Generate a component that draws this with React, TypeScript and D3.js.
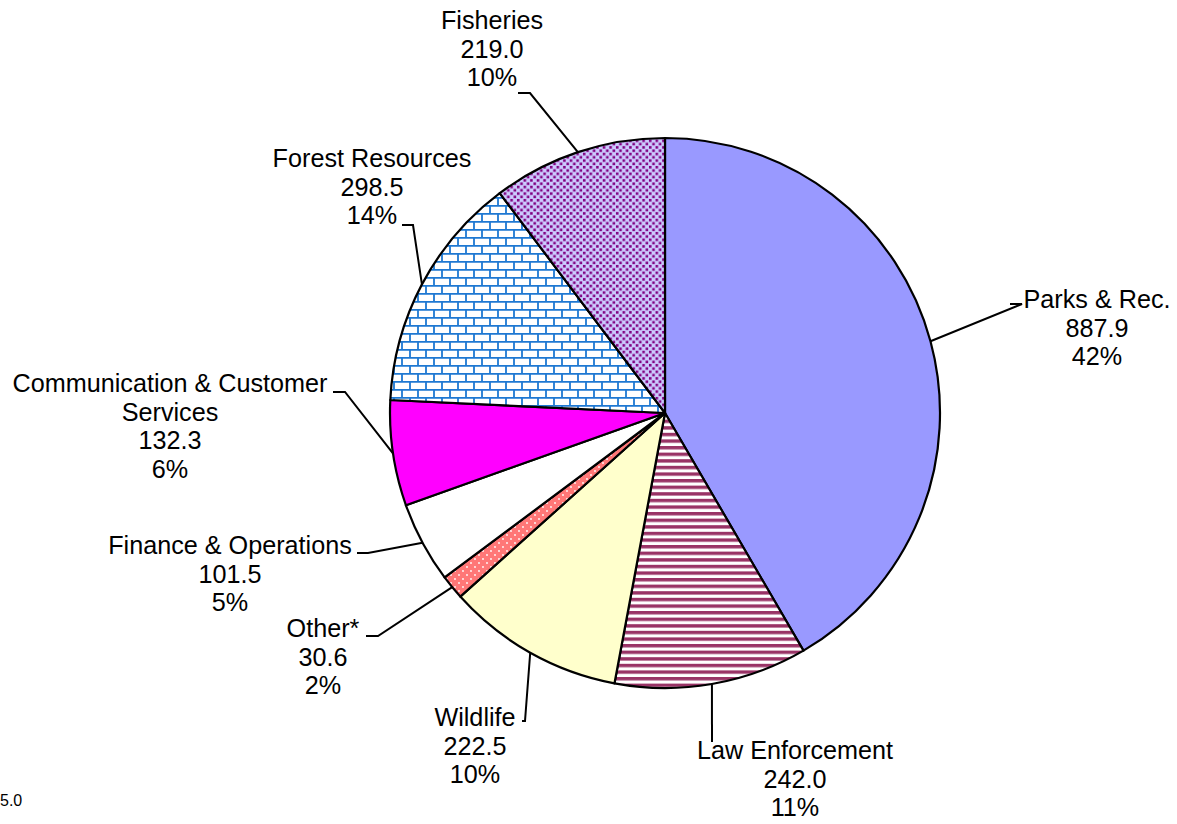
import * as d3 from "d3";

const categories = ["Parks & Rec.", "Law Enforcement", "Wildlife", "Other*", "Finance & Operations", "Communication & Customer Services", "Forest Resources", "Fisheries"];
const values = [887.9, 242.0, 222.5, 30.6, 101.5, 132.3, 298.5, 219.0];
const percents = ["42%", "11%", "10%", "2%", "5%", "6%", "14%", "10%"];
const fills = ["#9999ff", "url(#stripes)", "#ffffcc", "url(#pinkdots)", "#ffffff", "#ff00ff", "url(#bricks)", "url(#purpledots)"];

// label layout: centre x, first baseline, name lines, leader elbow points (label side)
const labelLayout = [
  { x: 1097, y: 308, lines: ["Parks & Rec."], leader: [[1022, 304], [1010, 304]] },
  { x: 795, y: 759, lines: ["Law Enforcement"], leader: [[712, 742]] },
  { x: 475, y: 726, lines: ["Wildlife"], leader: [[525, 721], [522, 721]] },
  { x: 323, y: 637, lines: ["Other*"], leader: [[378, 636], [366, 636]] },
  { x: 230, y: 554, lines: ["Finance & Operations"], leader: [[368, 553], [357, 553]] },
  { x: 170, y: 392, lines: ["Communication & Customer", "Services"], leader: [[345, 392], [333, 392]] },
  { x: 372, y: 167, lines: ["Forest Resources"], leader: [[413, 225], [402, 225]] },
  { x: 492, y: 29, lines: ["Fisheries"], leader: [[530, 93], [518, 93]] },
];

const W = 1177;
const H = 824;
const cx = 665;
const cy = 413;
const R = 275;
const lineH = 28.6;

export default function App() {
  const pie = d3.pie<number>().sort(null).value((d) => d);
  const arcs = pie(values);
  const arc = d3.arc<d3.PieArcDatum<number>>().innerRadius(0).outerRadius(R);

  return (
    <svg width={W} height={H} style={{ position: "absolute", left: 0, top: 0 }} fontFamily="'Liberation Sans', Arial, sans-serif">
      <defs>
        <pattern id="purpledots" width="6.6" height="6.6" patternUnits="userSpaceOnUse">
          <rect width="6.6" height="6.6" fill="#ccccff" />
          <rect x="0.4" y="0.4" width="2.6" height="2.6" fill="#800080" />
          <rect x="3.7" y="3.7" width="2.6" height="2.6" fill="#800080" />
        </pattern>
        <pattern id="bricks" width="16" height="16" patternUnits="userSpaceOnUse">
          <rect width="16" height="16" fill="#ffffff" />
          <path d="M0,0.8H16M0,8.8H16M1,0V8.8M9,8.8V16" stroke="#1e78d2" strokeWidth="1.8" fill="none" />
        </pattern>
        <pattern id="stripes" width="6.6" height="6.6" patternUnits="userSpaceOnUse">
          <rect width="6.6" height="6.6" fill="#ffffff" />
          <rect y="0" width="6.6" height="3.4" fill="#993366" />
        </pattern>
        <pattern id="pinkdots" width="8" height="8" patternUnits="userSpaceOnUse">
          <rect width="8" height="8" fill="#ff7777" />
          <circle cx="2" cy="2" r="0.9" fill="#ffffff" />
          <circle cx="6" cy="6" r="0.9" fill="#ffffff" />
        </pattern>
      </defs>
      <g transform={`translate(${cx},${cy})`}>
        {arcs.map((a, i) => (
          <path key={i} d={arc(a) || ""} fill={fills[i]} stroke="#000" strokeWidth={2.2} strokeLinejoin="round" />
        ))}
      </g>
      {arcs.map((a, i) => {
        const mid = (a.startAngle + a.endAngle) / 2;
        const px = cx + R * Math.sin(mid);
        const py = cy - R * Math.cos(mid);
        const lay = labelLayout[i];
        const pts = [[px, py], ...lay.leader];
        const d = d3.line()(pts as [number, number][]) || "";
        const allLines = [...lay.lines, values[i].toFixed(1), percents[i]];
        return (
          <g key={"l" + i}>
            <path d={d} fill="none" stroke="#000" strokeWidth={2} />
            <text x={lay.x} y={lay.y} textAnchor="middle" fontSize={25.2} fill="#000">
              {allLines.map((t, j) => (
                <tspan key={j} x={lay.x} y={lay.y + j * lineH}>{t}</tspan>
              ))}
            </text>
          </g>
        );
      })}
      <text x={0} y={806} fontSize={16} fill="#000">5.0</text>
    </svg>
  );
}
